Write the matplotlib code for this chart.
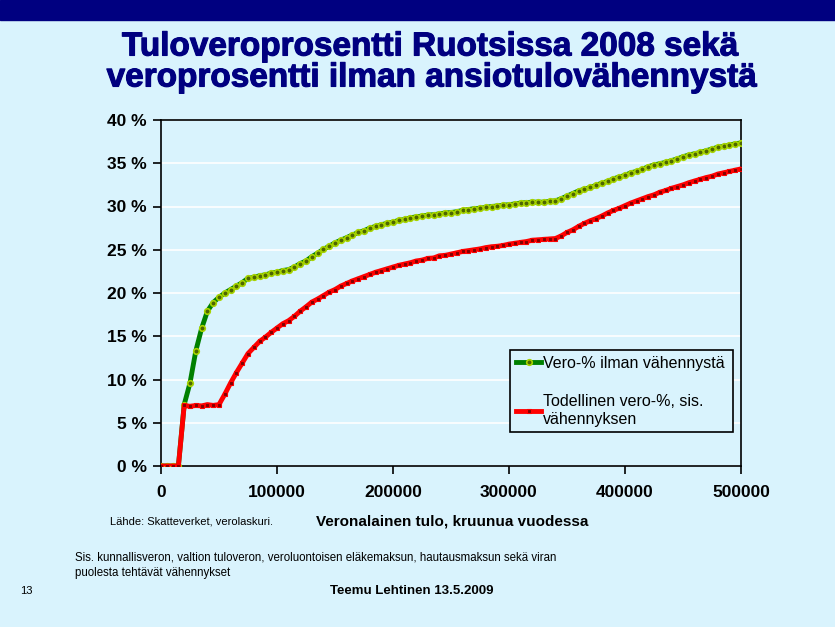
import matplotlib
matplotlib.use("Agg")
import matplotlib.pyplot as plt
import matplotlib.patheffects as pe
from matplotlib.ticker import MultipleLocator, FuncFormatter

# veronalainen tulo (kr/v), 5000 kr välein
income = list(range(0, 500001, 5000))

# Vero-% ilman vähennystä
tax_no_deduction = [
    0, 0, 0, 0, 7.1, 9.6, 13.3, 15.9, 17.9, 18.9,
    19.5, 20.0, 20.4, 20.8, 21.2, 21.7, 21.8, 22.0, 22.1, 22.3,
    22.4, 22.6, 22.7, 23.0, 23.4, 23.7, 24.2, 24.6, 25.05, 25.4,
    25.8, 26.1, 26.4, 26.7, 27.0, 27.2, 27.5, 27.7, 27.9, 28.05,
    28.2, 28.4, 28.5, 28.7, 28.8, 28.9, 29.0, 29.05, 29.15, 29.25,
    29.3, 29.4, 29.55, 29.65, 29.75, 29.8, 29.9, 30.0, 30.06, 30.15,
    30.2, 30.3, 30.4, 30.45, 30.5, 30.5, 30.5, 30.6, 30.65, 30.9,
    31.2, 31.5, 31.8, 32.0, 32.2, 32.45, 32.7, 32.9, 33.2, 33.4,
    33.6, 33.9, 34.05, 34.3, 34.6, 34.8, 34.95, 35.1, 35.3, 35.5,
    35.75, 35.95, 36.1, 36.25, 36.45, 36.65, 36.85, 36.95, 37.1, 37.25,
    37.35,
]

# Todellinen vero-%, sis. vähennyksen
tax_actual = [
    0, 0, 0, 0, 7.0, 6.9, 7.0, 6.95, 7.1, 7.0,
    7.1, 8.3, 9.6, 10.8, 11.9, 13.0, 13.7, 14.4, 14.9, 15.45,
    15.95, 16.45, 16.8, 17.3, 17.9, 18.4, 18.95, 19.3, 19.7, 20.1,
    20.4, 20.8, 21.1, 21.4, 21.65, 21.9, 22.15, 22.4, 22.6, 22.8,
    23.0, 23.2, 23.35, 23.5, 23.7, 23.8, 24.0, 24.05, 24.3, 24.35,
    24.5, 24.65, 24.8, 24.9, 25.0, 25.1, 25.25, 25.35, 25.4, 25.5,
    25.65, 25.75, 25.85, 25.95, 26.1, 26.15, 26.2, 26.25, 26.3, 26.6,
    27.0, 27.3, 27.7, 28.05, 28.35, 28.6, 28.9, 29.25, 29.55, 29.8,
    30.1, 30.4, 30.65, 30.9, 31.15, 31.35, 31.65, 31.85, 32.1, 32.3,
    32.5, 32.75, 32.95, 33.15, 33.35, 33.5, 33.75, 33.9, 34.05, 34.2,
    34.35,
]

labels = ["Vero-% ilman vähennystä", "Todellinen vero-%, sis.\nvähennyksen"]

BG = "#d9f3fd"
NAVY = "#000080"
W, H = 835, 627

plt.rcParams["font.family"] = ["Liberation Sans", "DejaVu Sans"]

fig = plt.figure(figsize=(W / 100, H / 100), dpi=100, facecolor=BG)

# tummansininen palkki ylhäällä
fig.patches.append(plt.Rectangle((0, 1 - 20 / H), 1, 20 / H, transform=fig.transFigure,
                                 color=NAVY, zorder=0))


def px(x, y):
    # pikselit -> figure-koordinaatit
    return x / W, 1 - y / H


heavy = [pe.withStroke(linewidth=0.8, foreground=NAVY)]
fig.text(*px(431, 47), "Tuloveroprosentti Ruotsissa 2008 sekä", ha="center", va="center",
         fontsize=24, fontweight="bold", color=NAVY, path_effects=heavy)
fig.text(*px(433, 78), "veroprosentti ilman ansiotulovähennystä", ha="center", va="center",
         fontsize=24, fontweight="bold", color=NAVY, path_effects=heavy)

ax = fig.add_axes([161 / W, 1 - 466 / H, 580 / W, 346 / H])
ax.set_facecolor(BG)

ax.plot(income, tax_no_deduction, color="#008000", lw=3.5, marker="o", ms=4,
        mfc="#4d6600", mec="#a8d400", mew=1.2, label=labels[0], zorder=3)
ax.plot(income, tax_actual, color="#ff0000", lw=3.5, marker="s", ms=3,
        mfc="#800000", mec="#ff0000", mew=0.8, label=labels[1], zorder=4)

ax.set_xlim(0, 500000)
ax.set_ylim(0, 40)
ax.xaxis.set_major_locator(MultipleLocator(100000))
ax.yaxis.set_major_locator(MultipleLocator(5))
ax.yaxis.set_major_formatter(FuncFormatter(lambda v, p: f"{v:.0f} %"))
ax.grid(axis="y", color="white", lw=1.2)
ax.set_axisbelow(True)
for s in ax.spines.values():
    s.set_color("black")
    s.set_linewidth(1.2)
ax.tick_params(direction="out", length=6, width=1.2, labelsize=12.5)
for lab in ax.get_xticklabels() + ax.get_yticklabels():
    lab.set_fontweight("bold")
ax.tick_params(axis="x", pad=8)
ax.tick_params(axis="y", pad=4)

leg = ax.legend(loc="lower left", bbox_to_anchor=(0.602, 0.098, 0.384, 0.234),
                mode="expand", borderaxespad=0, fontsize=11.5, frameon=True, fancybox=False,
                facecolor=BG, edgecolor="black", framealpha=1, labelspacing=1.45,
                handlelength=1.6, handletextpad=0.1, borderpad=0.35, markerscale=1)
leg.get_frame().set_linewidth(1.2)

fig.text(*px(452, 521), "Veronalainen tulo, kruunua vuodessa", ha="center", va="center",
         fontsize=11, fontweight="bold")
fig.text(*px(110, 522), "Lähde: Skatteverket, verolaskuri.", ha="left", va="center", fontsize=8)
fig.text(*px(75, 558), "Sis. kunnallisveron, valtion tuloveron, veroluontoisen eläkemaksun, "
         "hautausmaksun sekä viran", ha="left", va="center", fontsize=8.3)
fig.text(*px(75, 573), "puolesta tehtävät vähennykset", ha="left", va="center", fontsize=8.3)
fig.text(*px(20, 591), "13", ha="left", va="center", fontsize=8)
fig.text(*px(412, 591), "Teemu Lehtinen 13.5.2009", ha="center", va="center",
         fontsize=9.5, fontweight="bold")

fig.savefig("out.png", dpi=100, facecolor=BG)
